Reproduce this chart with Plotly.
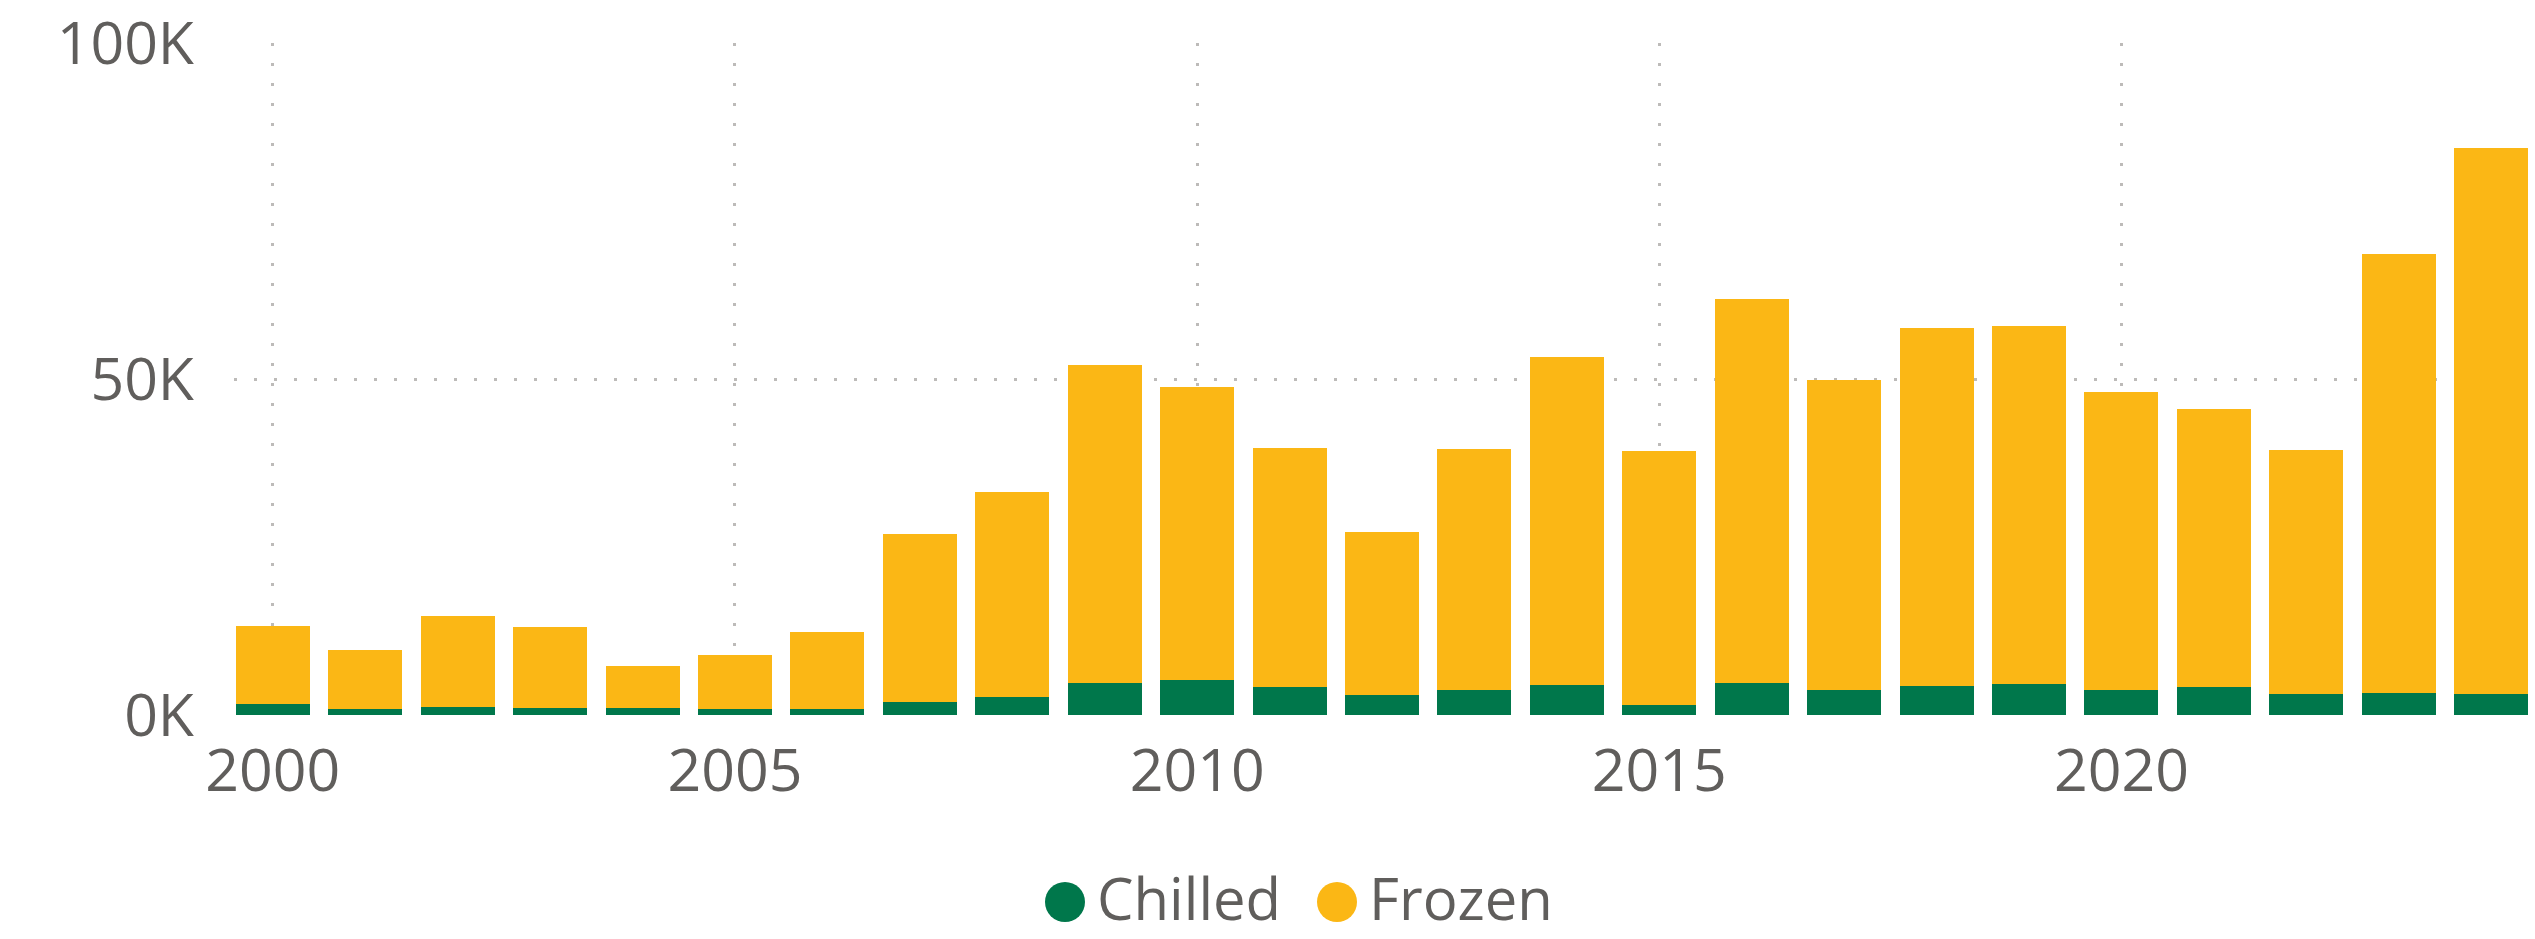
import plotly.graph_objects as go

years = list(range(2000, 2025))
chilled = [1600, 850, 1160, 1060, 1060, 850, 850, 1900, 2650, 4700, 5150, 4200, 3000,
           3650, 4400, 1430, 4700, 3650, 4300, 4600, 3650, 4150, 3100, 3250, 3100]
frozen = [11650, 8750, 13590, 12040, 6240, 8050, 11500, 25100, 30600, 47400, 43650, 35600, 24200,
          35950, 48900, 37870, 57200, 46250, 53300, 53300, 44350, 41350, 36400, 65350, 81300]
series_names = ["Chilled", "Frozen"]
series_colors = ["#00774B", "#FBB715"]
x_tick_vals = [2000, 2005, 2010, 2015, 2020]
x_tick_text = ["2000", "2005", "2010", "2015", "2020"]
y_tick_vals = [0, 50000, 100000]
y_tick_text = ["0K", "50K", "100K"]

FONT = "Segoe UI, Open Sans, sans-serif"
TXT = "#605E5C"
GRID = "#BDBBB9"

fig = go.Figure()
for name, vals, col in zip(series_names, [chilled, frozen], series_colors):
    fig.add_trace(go.Bar(x=years, y=vals, name=name, marker=dict(color=col, line=dict(width=0)),
                         width=0.8, showlegend=False))

W, H = 2535, 939
ml, mr, mt, mb = 234, 5, 43, 224
fig.update_layout(
    template="none",
    width=W, height=H, barmode="stack",
    margin=dict(l=ml, r=mr, t=mt, b=mb, autoexpand=False),
    paper_bgcolor="white", plot_bgcolor="white",
    font=dict(family=FONT, color=TXT, size=59),
    showlegend=False,
)
fig.update_xaxes(range=[1999.58, 2024.42], tickvals=x_tick_vals, ticktext=x_tick_text,
                 showgrid=True, gridcolor=GRID, gridwidth=3, griddash="3px,17px",
                 zeroline=False, showline=False, ticks="", automargin=False,
                 ticklabelstandoff=16, tickfont=dict(size=59, color=TXT))
fig.update_yaxes(range=[0, 100000], tickvals=y_tick_vals, ticktext=y_tick_text,
                 showgrid=True, gridcolor=GRID, gridwidth=3, griddash="3px,17px",
                 zeroline=False, showline=False, ticks="", automargin=False,
                 ticklabelstandoff=39, tickfont=dict(size=59, color=TXT))

# legend (circle markers + labels), placed in pixel terms below the plot
pw = W - ml - mr
ph = H - mt - mb
def px_to_paper_x(px):
    return (px - ml) / pw
def py_to_paper_y(py):
    return (H - mb - py) / ph

legend_marker_y = 902
legend_text_y = 897
legend_items_x = [1065, 1337]
for name, col, cx in zip(series_names, series_colors, legend_items_x):
    fig.add_shape(type="circle", xref="paper", yref="paper",
                  xsizemode="pixel", ysizemode="pixel",
                  xanchor=px_to_paper_x(cx), yanchor=py_to_paper_y(legend_marker_y),
                  x0=-20, x1=20, y0=-20, y1=20,
                  fillcolor=col, line=dict(width=0))
    fig.add_annotation(text=name, xref="paper", yref="paper",
                       x=px_to_paper_x(cx + 30), y=py_to_paper_y(legend_text_y),
                       xanchor="left", yanchor="middle", showarrow=False,
                       height=64, valign="middle",
                       font=dict(size=58, color=TXT, family=FONT))

fig.write_html("out.html", config={"displayModeBar": False},
               post_script="document.body.style.margin='0';document.body.style.overflow='hidden';")
